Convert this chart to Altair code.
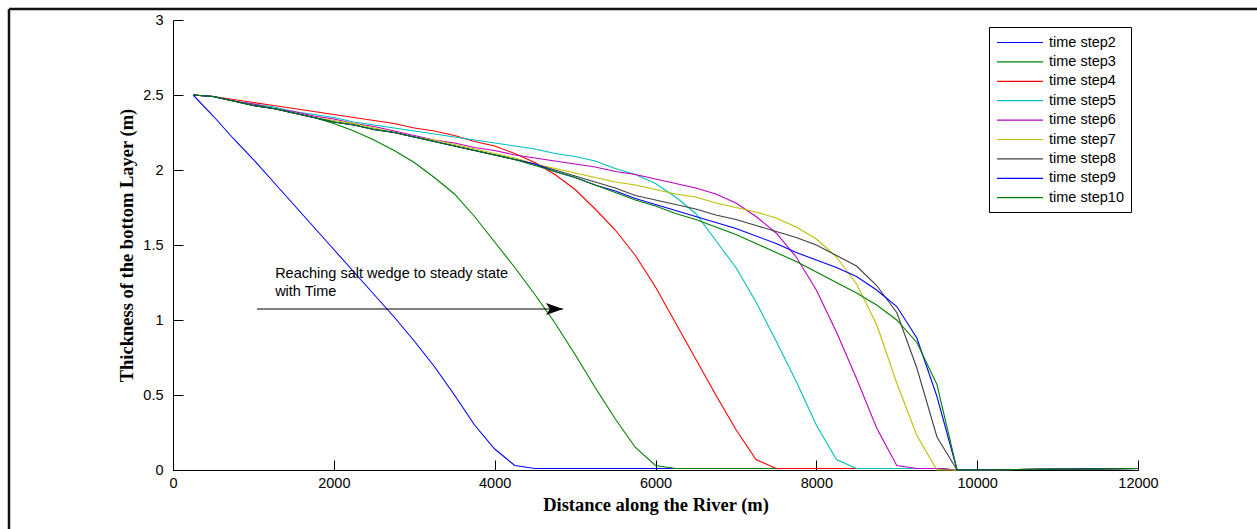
import altair as alt
import pandas as pd

# ---------------- data ----------------
distance = [250, 500, 750, 1000, 1250, 1500, 1750, 2000, 2250, 2500,
            2750, 3000, 3250, 3500, 3750, 4000, 4250, 4500, 4750, 5000,
            5250, 5500, 5750, 6000, 6250, 6500, 6750, 7000, 7250, 7500,
            7750, 8000, 8250, 8500, 8750, 9000, 9250, 9500, 9750, 12000]

step2 = [2.5, 2.36, 2.21, 2.07, 1.92, 1.77, 1.62, 1.47, 1.32, 1.17,
         1.02, 0.86, 0.69, 0.5, 0.3, 0.14, 0.03, 0.01, 0.01, 0.01,
         0.01, 0.01, 0.01, 0.01, 0.01, 0.01, 0.01, 0.01, 0.01, 0.01,
         0.01, 0.01, 0.01, 0.01, 0.01, 0.01, 0.01, 0.01, 0.0, 0.01]
step3 = [2.5, 2.49, 2.46, 2.43, 2.41, 2.38, 2.35, 2.31, 2.26, 2.2,
         2.13, 2.05, 1.95, 1.84, 1.69, 1.52, 1.35, 1.17, 0.98, 0.77,
         0.55, 0.34, 0.15, 0.03, 0.01, 0.01, 0.01, 0.01, 0.01, 0.01,
         0.01, 0.01, 0.01, 0.01, 0.01, 0.01, 0.01, 0.01, 0.0, 0.01]
step4 = [2.5, 2.49, 2.47, 2.45, 2.43, 2.41, 2.39, 2.37, 2.35, 2.33,
         2.31, 2.28, 2.26, 2.23, 2.19, 2.16, 2.11, 2.05, 1.97, 1.87,
         1.74, 1.6, 1.43, 1.22, 0.98, 0.74, 0.5, 0.27, 0.07, 0.01,
         0.01, 0.01, 0.01, 0.01, 0.01, 0.01, 0.01, 0.01, 0.0, 0.01]
step5 = [2.5, 2.49, 2.46, 2.44, 2.42, 2.39, 2.37, 2.35, 2.32, 2.3,
         2.28, 2.26, 2.24, 2.22, 2.2, 2.18, 2.16, 2.14, 2.11, 2.09,
         2.06, 2.01, 1.97, 1.91, 1.82, 1.71, 1.53, 1.35, 1.12, 0.86,
         0.59, 0.3, 0.07, 0.01, 0.01, 0.01, 0.01, 0.01, 0.0, 0.01]
step6 = [2.5, 2.49, 2.46, 2.44, 2.41, 2.39, 2.36, 2.34, 2.31, 2.29,
         2.26, 2.23, 2.2, 2.18, 2.15, 2.13, 2.1, 2.08, 2.06, 2.04,
         2.02, 1.99, 1.97, 1.94, 1.91, 1.88, 1.84, 1.78, 1.69, 1.58,
         1.42, 1.2, 0.92, 0.61, 0.28, 0.03, 0.01, 0.01, 0.0, 0.01]
step7 = [2.5, 2.49, 2.46, 2.43, 2.41, 2.38, 2.35, 2.33, 2.31, 2.28,
         2.25, 2.22, 2.2, 2.17, 2.14, 2.11, 2.08, 2.04, 2.01, 1.98,
         1.95, 1.92, 1.9, 1.87, 1.84, 1.82, 1.78, 1.75, 1.72, 1.68,
         1.62, 1.54, 1.42, 1.24, 0.97, 0.58, 0.23, 0.0, 0.0, 0.01]
step8 = [2.5, 2.49, 2.46, 2.43, 2.41, 2.38, 2.35, 2.32, 2.3, 2.27,
         2.25, 2.22, 2.19, 2.16, 2.13, 2.1, 2.07, 2.04, 2.0, 1.96,
         1.92, 1.88, 1.83, 1.8, 1.77, 1.74, 1.7, 1.67, 1.63, 1.59,
         1.55, 1.5, 1.43, 1.36, 1.23, 1.05, 0.68, 0.22, 0.0, 0.01]
step9 = [2.5, 2.49, 2.46, 2.43, 2.41, 2.38, 2.35, 2.32, 2.3, 2.27,
         2.25, 2.22, 2.19, 2.16, 2.13, 2.1, 2.07, 2.04, 1.99, 1.95,
         1.9, 1.86, 1.81, 1.77, 1.73, 1.69, 1.65, 1.61, 1.56, 1.51,
         1.45, 1.4, 1.35, 1.29, 1.2, 1.09, 0.88, 0.49, 0.0, 0.01]
step10 = [2.5, 2.49, 2.46, 2.43, 2.41, 2.38, 2.35, 2.32, 2.3, 2.27,
          2.25, 2.22, 2.19, 2.16, 2.13, 2.1, 2.07, 2.03, 1.99, 1.95,
          1.9, 1.85, 1.8, 1.76, 1.71, 1.67, 1.62, 1.57, 1.51, 1.45,
          1.39, 1.32, 1.25, 1.18, 1.1, 1.0, 0.85, 0.57, 0.0, 0.01]

series_names = ["time step2", "time step3", "time step4", "time step5",
                "time step6", "time step7", "time step8", "time step9",
                "time step10"]
series_values = [step2, step3, step4, step5, step6, step7, step8, step9, step10]
series_colors = ["#0000FF", "#008000", "#FF0000", "#00BFBF", "#BF00BF",
                 "#BFBF00", "#404040", "#0000FE", "#008001"]

x_ticks = [0, 2000, 4000, 6000, 8000, 10000, 12000]
y_ticks = [0, 0.5, 1, 1.5, 2, 2.5, 3]

annotation_lines = ["Reaching salt wedge to steady state", "with Time"]
annotation_x = [1270, 1270]
annotation_y = [1.307, 1.187]
arrow_x = [1045, 4850]
arrow_y = [1.073, 1.073]

# ---------------- build tables ----------------
rows = []
for name, ys in zip(series_names, series_values):
    for x, y in zip(distance, ys):
        rows.append({"series": name, "distance": x, "thickness": y})
df = pd.DataFrame(rows)

ann_df = pd.DataFrame({"x": annotation_x, "y": annotation_y, "text": annotation_lines})
arrow_df = pd.DataFrame({"x": arrow_x, "y": arrow_y})
head_df = pd.DataFrame({"x": [arrow_x[-1]], "y": [arrow_y[-1]]})

W, H = 965, 450
SANS = "Liberation Sans"
SERIF = "Liberation Serif"

x_scale = alt.Scale(domain=[0, 12000], nice=False, zero=False)
y_scale = alt.Scale(domain=[0, 3], nice=False, zero=False)

lines = alt.Chart(df).mark_line(strokeWidth=1.1).encode(
    x=alt.X("distance:Q", scale=x_scale,
            axis=alt.Axis(title="Distance along the River (m)", values=x_ticks,
                          format="d", ticks=False, grid=False,
                          domainColor="black", domainWidth=1,
                          labelFont=SANS, labelFontSize=14.5, labelColor="black",
                          labelPadding=6, labelFlush=False, labelOverlap=False,
                          titleFont=SERIF, titleFontSize=18.5, titleFontWeight="bold",
                          titleColor="black", titlePadding=6)),
    y=alt.Y("thickness:Q", scale=y_scale,
            axis=alt.Axis(title="Thickness of the bottom Layer (m)", values=y_ticks,
                          format="~g", ticks=False, grid=False,
                          domainColor="black", domainWidth=1,
                          labelFont=SANS, labelFontSize=14.5, labelColor="black",
                          labelPadding=10, labelFlush=False, labelOverlap=False,
                          titleFont=SERIF, titleFontSize=18.5, titleFontWeight="bold",
                          titleColor="black", titlePadding=6)),
    color=alt.Color("series:N", sort=series_names,
                    scale=alt.Scale(domain=series_names, range=series_colors),
                    legend=alt.Legend(title=None, orient="none", legendX=816, legendY=7,
                                      symbolType="M-1,0L5.133,0", symbolSize=225,
                                      symbolStrokeWidth=1.2,
                                      labelFont=SANS, labelFontSize=14.5,
                                      labelColor="black", labelOffset=36,
                                      strokeColor="black", fillColor="white",
                                      padding=7, rowPadding=4.4, cornerRadius=0)),
)

# arrow line, also carrying the inward tick axes (top/right axes moved onto the plot edges)
arrow_line = alt.Chart(arrow_df).mark_line(color="black", strokeWidth=1.1).encode(
    x=alt.X("x:Q", scale=x_scale,
            axis=alt.Axis(orient="top", offset=-H, labels=False, domain=False,
                          ticks=True, tickSize=10, tickColor="black", tickWidth=1,
                          values=x_ticks, title=None, grid=False)),
    y=alt.Y("y:Q", scale=y_scale,
            axis=alt.Axis(orient="right", offset=-W, labels=False, domain=False,
                          ticks=True, tickSize=10, tickColor="black", tickWidth=1,
                          values=y_ticks, title=None, grid=False)),
)

arrow_head = alt.Chart(head_df).mark_point(
    shape="M0,0 L-2,-0.7 L-1.55,0 L-2,0.7 Z", filled=True, size=289,
    color="black", opacity=1, strokeWidth=0
).encode(
    x=alt.X("x:Q", scale=x_scale, axis=None),
    y=alt.Y("y:Q", scale=y_scale, axis=None),
)

ann_text = alt.Chart(ann_df).mark_text(
    align="left", baseline="middle", font=SANS, fontSize=14.5, color="black"
).encode(
    x=alt.X("x:Q", scale=x_scale, axis=None),
    y=alt.Y("y:Q", scale=y_scale, axis=None),
    text="text:N",
)

frame_src = pd.DataFrame({"k": [0]})
frame_top = alt.Chart(frame_src).mark_rule(color="#111111", strokeWidth=2.5).encode(
    x=alt.value(-164), x2=alt.value(1084), y=alt.value(-11)
)
frame_left = alt.Chart(frame_src).mark_rule(color="#111111", strokeWidth=2.5).encode(
    x=alt.value(-164), y=alt.value(-11), y2=alt.value(509)
)

chart = alt.layer(lines, arrow_line, arrow_head, ann_text, frame_top, frame_left).resolve_axis(
    x="independent", y="independent"
).properties(
    width=W, height=H,
    padding={"left": 173, "top": 20, "right": 119, "bottom": 59},
    autosize=alt.AutoSizeParams(type="none"),
    background="white",
).configure_view(stroke=None)

chart.save("out.html", embed_options={"renderer": "svg", "actions": False})
